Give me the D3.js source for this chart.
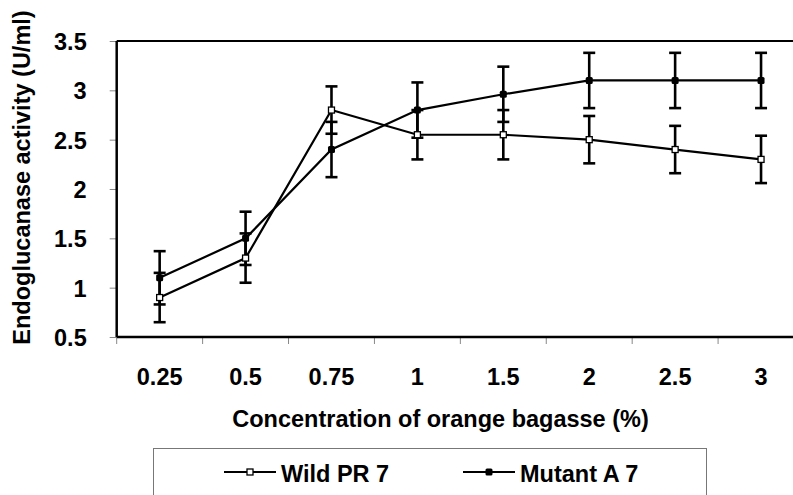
<!DOCTYPE html>
<html>
<head>
<meta charset="utf-8">
<script src="https://cdn.jsdelivr.net/npm/d3@7"></script>
<style>
  html, body { margin: 0; padding: 0; background: #fff; }
  svg { display: block; font-family: "Liberation Sans", Arial, sans-serif; }
</style>
</head>
<body>
<svg id="chart" width="793" height="495"></svg>
<script>
const categories = ["0.25", "0.5", "0.75", "1", "1.5", "2", "2.5", "3"];
const wildValues = [0.9, 1.3, 2.8, 2.55, 2.55, 2.5, 2.4, 2.3];
const wildErrors = [0.25, 0.25, 0.24, 0.25, 0.25, 0.24, 0.24, 0.24];
const mutantValues = [1.1, 1.5, 2.4, 2.8, 2.96, 3.1, 3.1, 3.1];
const mutantErrors = [0.27, 0.27, 0.28, 0.28, 0.28, 0.28, 0.28, 0.28];
const yTickValues = [0.5, 1, 1.5, 2, 2.5, 3, 3.5];
const seriesNames = ["Wild PR 7", "Mutant A 7"];
const xTitle = "Concentration of orange bagasse (%)";
const yTitle = "Endoglucanase activity (U/ml)";

const FS = 23.5;
const svg = d3.select("#chart");
const pLeft = 116.7, pRight = 804, pTop = 41, pBottom = 337;

const x = d3.scaleBand().domain(categories).range([pLeft, pRight]);
const y = d3.scaleLinear().domain([0.5, 3.5]).range([pBottom, pTop]);

// y axis
const yAxis = svg.append("g").attr("transform", `translate(${pLeft},0)`)
  .call(d3.axisLeft(y).tickValues(yTickValues).tickSize(7).tickPadding(23)
        .tickFormat(d => d3.format("")(d)));
yAxis.select(".domain").remove();
yAxis.selectAll(".tick line").attr("stroke", "#888").attr("stroke-width", 1);
yAxis.selectAll(".tick text").attr("font-size", FS).attr("font-weight", "bold")
  .attr("fill", "#000").attr("dy", "0.36em");

// x axis
const xAxis = svg.append("g").attr("transform", `translate(0,${pBottom})`)
  .call(d3.axisBottom(x).tickSize(0).tickPadding(0));
xAxis.select(".domain").remove();
xAxis.selectAll(".tick text").attr("font-size", FS).attr("font-weight", "bold")
  .attr("fill", "#000").attr("y", 48).attr("dy", 0);
// band boundary ticks
const boundaries = categories.map(c => x(c)).concat([x(categories[categories.length - 1]) + x.bandwidth()]);
svg.append("g").selectAll("line").data(boundaries).join("line")
  .attr("x1", d => d).attr("x2", d => d)
  .attr("y1", pBottom).attr("y2", pBottom + 7)
  .attr("stroke", "#888").attr("stroke-width", 1);

// frame lines
svg.append("line").attr("x1", pLeft).attr("x2", pRight).attr("y1", pTop).attr("y2", pTop)
  .attr("stroke", "#000").attr("stroke-width", 2);
svg.append("line").attr("x1", pLeft).attr("x2", pRight).attr("y1", pBottom).attr("y2", pBottom)
  .attr("stroke", "#000").attr("stroke-width", 2.5);
svg.append("line").attr("x1", pLeft).attr("x2", pLeft).attr("y1", pTop).attr("y2", pBottom)
  .attr("stroke", "#000").attr("stroke-width", 2.5);

const cx = c => x(c) + x.bandwidth() / 2;
const capW = 6;

function drawErrors(values, errors) {
  const g = svg.append("g").attr("stroke", "#000").attr("stroke-width", 2.6);
  categories.forEach((c, i) => {
    const hi = y(values[i] + errors[i]), lo = y(values[i] - errors[i]);
    g.append("line").attr("x1", cx(c)).attr("x2", cx(c)).attr("y1", hi).attr("y2", lo);
    g.append("line").attr("x1", cx(c) - capW).attr("x2", cx(c) + capW).attr("y1", hi).attr("y2", hi);
    g.append("line").attr("x1", cx(c) - capW).attr("x2", cx(c) + capW).attr("y1", lo).attr("y2", lo);
  });
}
drawErrors(wildValues, wildErrors);
drawErrors(mutantValues, mutantErrors);

const line = d3.line().x((d, i) => cx(categories[i])).y(d => y(d));
svg.append("path").datum(wildValues).attr("d", line)
  .attr("fill", "none").attr("stroke", "#000").attr("stroke-width", 2.2);
svg.append("path").datum(mutantValues).attr("d", line)
  .attr("fill", "none").attr("stroke", "#000").attr("stroke-width", 2.2);

// markers
svg.append("g").selectAll("rect").data(mutantValues).join("rect")
  .attr("x", (d, i) => cx(categories[i]) - 3.5).attr("y", d => y(d) - 3.5)
  .attr("width", 7).attr("height", 7).attr("rx", 1.5).attr("fill", "#000");
svg.append("g").selectAll("rect").data(wildValues).join("rect")
  .attr("x", (d, i) => cx(categories[i]) - 3).attr("y", d => y(d) - 3)
  .attr("width", 6).attr("height", 6).attr("fill", "#fff")
  .attr("stroke", "#000").attr("stroke-width", 1.3);

// axis titles
svg.append("text").attr("x", 440.5).attr("y", 427).attr("text-anchor", "middle")
  .attr("font-size", FS).attr("font-weight", "bold").attr("fill", "#000")
  .text(xTitle);
svg.append("text").attr("transform", "translate(30,177.5) rotate(-90)")
  .attr("text-anchor", "middle")
  .attr("font-size", FS).attr("font-weight", "bold").attr("fill", "#000")
  .text(yTitle);

// legend
svg.append("rect").attr("x", 153.5).attr("y", 448.5).attr("width", 553).attr("height", 60)
  .attr("fill", "#fff").attr("stroke", "#777").attr("stroke-width", 1);
const legendItems = [
  { name: seriesNames[0], x0: 224, filled: false },
  { name: seriesNames[1], x0: 463, filled: true }
];
const ly = 472;
legendItems.forEach(it => {
  svg.append("line").attr("x1", it.x0).attr("x2", it.x0 + 52).attr("y1", ly).attr("y2", ly)
    .attr("stroke", "#000").attr("stroke-width", 2.2);
  if (it.filled) {
    svg.append("rect").attr("x", it.x0 + 26 - 3.5).attr("y", ly - 3.5).attr("width", 7).attr("height", 7)
      .attr("rx", 1.5).attr("fill", "#000");
  } else {
    svg.append("rect").attr("x", it.x0 + 26 - 3).attr("y", ly - 3).attr("width", 6).attr("height", 6)
      .attr("fill", "#fff").attr("stroke", "#000").attr("stroke-width", 1.3);
  }
  svg.append("text").attr("x", it.x0 + 57).attr("y", 482)
    .attr("font-size", FS).attr("font-weight", "bold").attr("fill", "#000")
    .text(it.name);
});
</script>
</body>
</html>
